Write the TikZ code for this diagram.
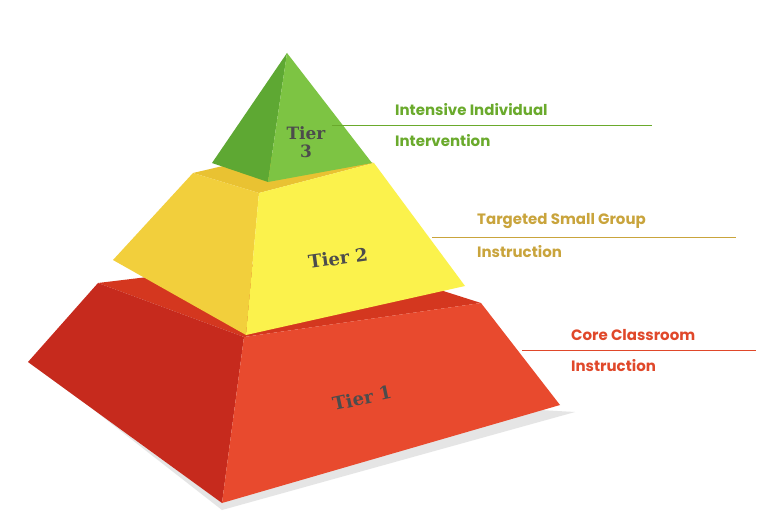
\documentclass[tikz,border=0pt]{standalone}
\usepackage{fontspec}
\setmainfont{DejaVu Serif}
\newfontfamily\lblfont{Poppins}
\definecolor{rfront}{HTML}{E84A2E}
\definecolor{rleft}{HTML}{C62A1D}
\definecolor{rtop}{HTML}{D4371F}
\definecolor{yfront}{HTML}{FBF24C}
\definecolor{yleft}{HTML}{F2CF3C}
\definecolor{ytop}{HTML}{E9C232}
\definecolor{gfront}{HTML}{7DC443}
\definecolor{gleft}{HTML}{5EA833}
\definecolor{glbl}{HTML}{6AAA2C}
\definecolor{ylbl}{HTML}{C9A43C}
\definecolor{rlbl}{HTML}{E0482A}
\begin{document}
\begin{tikzpicture}[x=1pt,y=-1pt,
  lbl/.style={anchor=west,font=\lblfont\fontsize{15}{17}\selectfont\bfseries,inner sep=0pt},
  tier/.style={font=\fontsize{18}{18}\selectfont\bfseries,text=black!70},
  rule/.style={line width=0.8pt}]
\useasboundingbox (0,0) rectangle (776,524);
\fill[white] (0,0) rectangle (776,524);
% shadow
\fill[black!10] (40,368) -- (222,510) -- (575,412) -- (505,408) -- (222,503) -- (28,362) -- cycle;
% Tier 1
\fill[rtop] (98,283) -- (330,255) -- (481,303) -- (244,337) -- cycle;
\fill[rleft] (28,362) -- (98,283) -- (244,337) -- (222,503) -- cycle;
\fill[rfront] (244,337) -- (481,303) -- (560,405) -- (222,503) -- cycle;
\node[tier,rotate=12] (t1) at (362,398) {Tier 1};
% Tier 2
\fill[ytop] (193,173) -- (300,148) -- (374,163) -- (259,193) -- cycle;
\fill[yleft] (113,260) -- (193,173) -- (259,193) -- (246,335) -- cycle;
\fill[yfront] (259,193) -- (374,163) -- (465,286) -- (246,335) -- cycle;
\node[tier,rotate=8] (t2) at (338,258) {Tier 2};
% Tier 3
\fill[gleft] (212,163) -- (287,53) -- (268,182) -- cycle;
\fill[gfront] (287,53) -- (372,163) -- (268,182) -- cycle;
\node[tier,align=center,font=\fontsize{17}{18}\selectfont\bfseries] (t3) at (306,142) {Tier\\3};
% labels
\node[lbl,text=glbl] (g1) at (395,110) {Intensive Individual};
\node[lbl,text=glbl] (g2) at (395,141) {Intervention};
\coordinate (ga) at (332,125); \coordinate (gb) at (652,125);
\draw[rule,glbl] (ga) -- (gb);
\node[lbl,text=ylbl] (y1) at (477,221) {Targeted Small Group};
\node[lbl,text=ylbl] (y2) at (477,252) {Instruction};
\coordinate (ya) at (432,237); \coordinate (yb) at (736,237);
\draw[rule,ylbl] (ya) -- (yb);
\node[lbl,text=rlbl] (r1) at (571,335) {Core Classroom};
\node[lbl,text=rlbl] (r2) at (571,366) {Instruction};
\coordinate (ra) at (522,350); \coordinate (rb) at (756,350);
\draw[rule,rlbl] (ra) -- (rb);
\end{tikzpicture}
\end{document}
